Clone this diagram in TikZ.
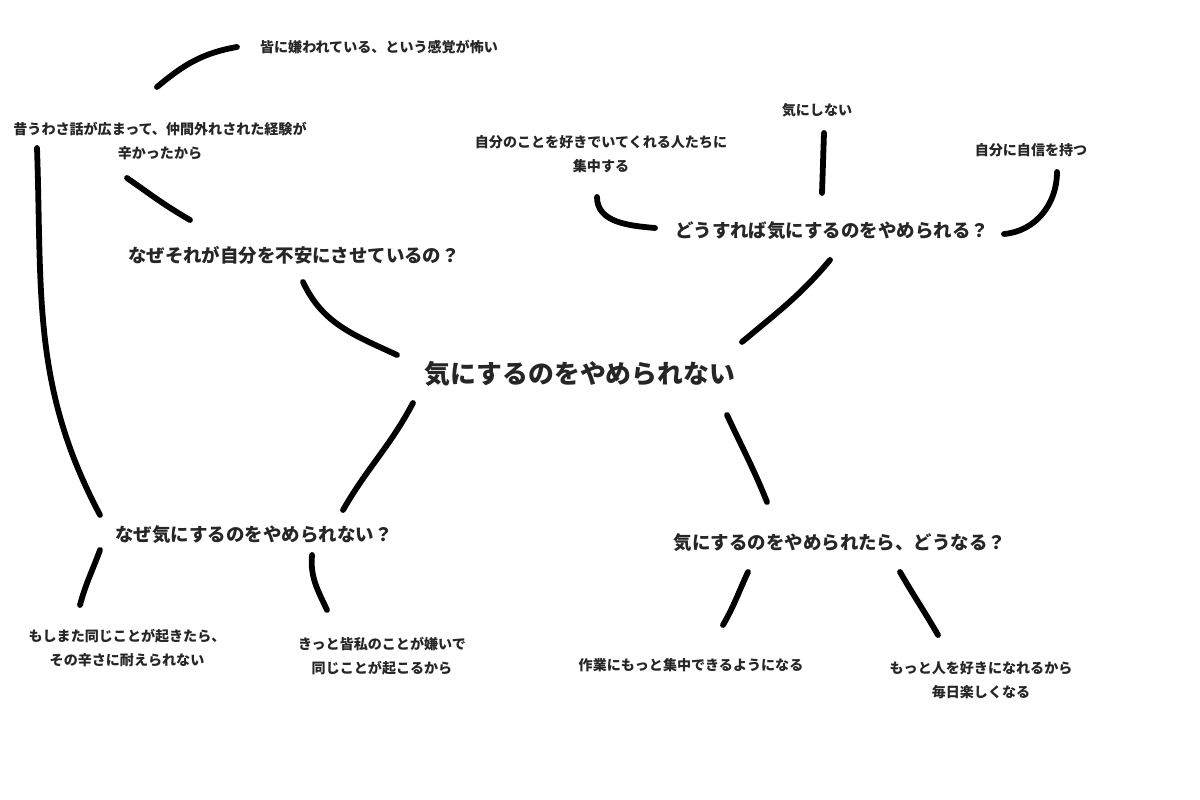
\documentclass[tikz,border=0pt]{standalone}
\usepackage{fontspec}
\newfontfamily\jp{Noto Sans CJK JP}
\usetikzlibrary{positioning,calc}

\begin{document}
\begin{tikzpicture}[x=0.02cm,y=0.02cm,
  small/.style={font=\jp\bfseries\fontsize{8}{13.8}\selectfont,align=center,inner sep=0pt,text=black!85},
  mid/.style={font=\jp\bfseries\fontsize{10.5}{13}\selectfont,inner sep=0pt,text=black!85},
  big/.style={font=\jp\bfseries\fontsize{14.7}{17}\selectfont,inner sep=0pt,text=black!85},
  stroke/.style={line width=3.3pt,line cap=round,draw=black}]
\fill[white] (0,0) rectangle (1200,800);
\useasboundingbox (0,0) rectangle (1200,800);
% main topic and questions
\node[big] (hub) at (580,426) {気にするのをやめられない};
\node[mid] (why) at (294,545) {なぜそれが自分を不安にさせているの？};
\node[mid] (how) at (832,569) {どうすれば気にするのをやめられる？};
\node[mid] (whynot) at (254,265) {なぜ気にするのをやめられない？};
\node[mid] (then) at (840,257) {気にするのをやめられたら、どうなる？};
% answers
\node[small] (fear) at (379,753) {皆に嫌われている、という感覚が怖い};
\node[small] (past) at (160,659) {昔うわさ話が広まって、仲間外れされた経験が\\辛かったから};
\node[small] (focus) at (601,646) {自分のことを好きでいてくれる人たちに\\集中する};
\node[small] (ignore) at (817,690) {気にしない};
\node[small] (confid) at (1031,650) {自分に自信を持つ};
\node[small] (again) at (127,152) {もしまた同じことが起きたら、\\その辛さに耐えられない};
\node[small] (hate) at (382,144) {きっと皆私のことが嫌いで\\同じことが起こるから};
\node[small] (work) at (691,135) {作業にもっと集中できるようになる};
\node[small] (enjoy) at (981,120) {もっと人を好きになれるから\\毎日楽しくなる};
% hand drawn strokes
\path[stroke]
([shift={(-3,54)}]past.center) to[out=40,in=190] ([shift={(-142,0)}]fear.center)
([shift={(-123,-7)}]past.center) to[out=-88,in=118] ([shift={(-154,20)}]whynot.center)
([shift={(-33,-37)}]past.center) to[out=-35,in=150] ([shift={(-104,35)}]why.center)
([shift={(9,-27)}]why.center) to[out=-65,in=155] ([shift={(-183,19)}]hub.center)
([shift={(162,32)}]hub.center) to[out=40,in=230] ([shift={(-2,-29)}]how.center)
([shift={(-167,-29)}]hub.center) to[out=-118,in=60] ([shift={(89,25)}]whynot.center)
([shift={(147,-41)}]hub.center) to[out=-65,in=112] ([shift={(-73,41)}]then.center)
([shift={(-154,-15)}]whynot.center) to[out=-110,in=75] ([shift={(-47,43)}]again.center)
([shift={(58,-20)}]whynot.center) to[out=-95,in=115] ([shift={(-55,46)}]hate.center)
([shift={(-92,-29)}]then.center) to[out=-115,in=60] ([shift={(32,40)}]work.center)
([shift={(60,-29)}]then.center) to[out=-60,in=120] ([shift={(-43,45)}]enjoy.center)
([shift={(-4,-43)}]focus.center) to[out=-90,in=175] ([shift={(-177,3)}]how.center)
([shift={(7,-23)}]ignore.center) to[out=-92,in=88] ([shift={(-10,38)}]how.center)
([shift={(26,-22)}]confid.center) to[out=-90,in=5] ([shift={(172,-3)}]how.center)
;
\end{tikzpicture}
\end{document}
